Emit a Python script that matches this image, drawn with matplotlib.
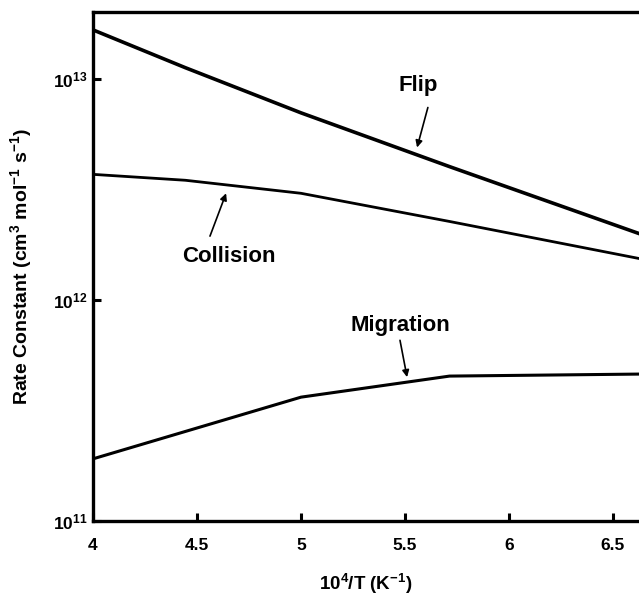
import matplotlib
matplotlib.use("Agg")
import matplotlib.pyplot as plt

plt.rcParams['font.family'] = ['Liberation Sans', 'DejaVu Sans']
plt.rcParams['font.weight'] = 'bold'
plt.rcParams['mathtext.fontset'] = 'custom'
plt.rcParams['mathtext.rm'] = 'Liberation Sans:bold'
plt.rcParams['mathtext.bf'] = 'Liberation Sans:bold'
plt.rcParams['mathtext.it'] = 'Liberation Sans:bold'
plt.rcParams['mathtext.default'] = 'rm'

# Data: 10^4/T values (T = 2500, 2250, 2000, 1750, 1500 K)
inv_T = [4.0, 4.444, 5.0, 5.714, 6.667]
flip = [1.66e13, 1.12e13, 7.0e12, 4.0e12, 1.93e12]
collision = [3.69e12, 3.47e12, 3.03e12, 2.26e12, 1.51e12]
migration = [1.91e11, 2.54e11, 3.63e11, 4.52e11, 4.62e11]

x_ticks = [4, 4.5, 5, 5.5, 6, 6.5]
x_tick_labels = ['4', '4.5', '5', '5.5', '6', '6.5']
y_ticks = [1e11, 1e12, 1e13]
y_tick_labels = [r'10$^{11}$', r'10$^{12}$', r'10$^{13}$']

fig = plt.figure(figsize=(6.39, 5.96), dpi=100)
ax = fig.add_axes([0.1455, 0.1258, 0.8545, 0.8541])

ax.plot(inv_T, flip, color='black', lw=2.6, solid_capstyle='butt')
ax.plot(inv_T, collision, color='black', lw=2.0, solid_capstyle='butt')
ax.plot(inv_T, migration, color='black', lw=2.2, solid_capstyle='butt')

ax.set_yscale('log')
ax.set_xlim(4, 6.625)
ax.set_ylim(1e11, 2e13)

ax.set_xticks(x_ticks)
ax.set_xticklabels(x_tick_labels)
ax.set_yticks(y_ticks)
ax.set_yticklabels(y_tick_labels)
ax.yaxis.set_minor_locator(matplotlib.ticker.NullLocator())
ax.xaxis.set_minor_locator(matplotlib.ticker.NullLocator())

ax.tick_params(axis='both', direction='in', length=6, width=2.2)
ax.tick_params(axis='x', pad=12, labelsize=12.5)
ax.tick_params(axis='y', pad=4, labelsize=12.5)
for lbl in ax.get_xticklabels() + ax.get_yticklabels():
    lbl.set_fontweight('bold')

for side in ['left', 'bottom', 'top']:
    ax.spines[side].set_linewidth(2.4)
ax.spines['right'].set_visible(False)

ax.set_xlabel(r'10$^4$/T (K$^{-1}$)', fontsize=13.5, fontweight='bold')
ax.xaxis.set_label_coords(0.5, -0.1)
ax.set_ylabel(r'Rate Constant (cm$^3$ mol$^{-1}$ s$^{-1}$)', fontsize=14, fontweight='bold')
ax.yaxis.set_label_coords(-0.108, 0.5)

arrow = dict(arrowstyle='-|>', color='black', lw=1.2, mutation_scale=10, shrinkA=0, shrinkB=0)
ax.annotate('', xy=(5.558, 4.88e12), xytext=(5.61, 7.4e12), arrowprops=arrow)
ax.text(5.5625, 9.3e12, 'Flip', ha='center', va='center', fontsize=16, fontweight='bold')
ax.annotate('', xy=(4.64, 3.03e12), xytext=(4.5625, 1.94e12), arrowprops=arrow)
ax.text(4.654, 1.57e12, 'Collision', ha='center', va='center', fontsize=16, fontweight='bold')
ax.annotate('', xy=(5.51, 4.47e11), xytext=(5.476, 6.56e11), arrowprops=arrow)
ax.text(5.476, 7.67e11, 'Migration', ha='center', va='center', fontsize=16, fontweight='bold')

fig.savefig('out.png', dpi=100)
